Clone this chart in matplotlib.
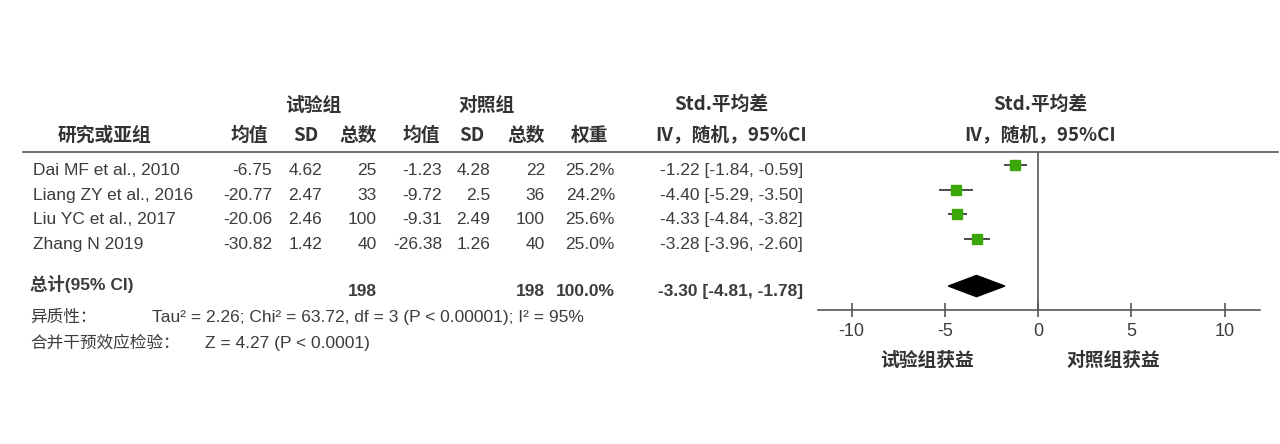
import matplotlib
matplotlib.use("Agg")
import matplotlib.pyplot as plt

# study-level data
studies = ["Dai MF et al., 2010", "Liang ZY et al., 2016",
           "Liu YC et al., 2017", "Zhang N 2019"]
exp_mean = [-6.75, -20.77, -20.06, -30.82]
exp_sd = [4.62, 2.47, 2.46, 1.42]
exp_n = [25, 33, 100, 40]
ctrl_mean = [-1.23, -9.72, -9.31, -26.38]
ctrl_sd = [4.28, 2.5, 2.49, 1.26]
ctrl_n = [22, 36, 100, 40]
weights = [25.2, 24.2, 25.6, 25.0]
smd = [-1.22, -4.40, -4.33, -3.28]
ci_lo = [-1.84, -5.29, -4.84, -3.96]
ci_hi = [-0.59, -3.50, -3.82, -2.60]

# pooled result
total_smd, total_lo, total_hi = -3.30, -4.81, -1.78
total_exp_n, total_ctrl_n, total_w = 198, 198, 100.0
het_text = "Tau² = 2.26; Chi² = 63.72, df = 3 (P < 0.00001); I² = 95%"
z_text = "Z = 4.27 (P < 0.0001)"
xticks = [-10, -5, 0, 5, 10]

TXT = "#3c3c3c"
LINE = "#555555"
GREEN = "#3aa80a"
LAT = ["Liberation Sans", "Noto Sans CJK SC"]
CJK = ["Noto Sans CJK SC", "DejaVu Sans"]

fig = plt.figure(figsize=(12.8, 4.44), dpi=100)

# pixel-coordinate layer for the table part
ax_t = fig.add_axes([0, 0, 1, 1])
ax_t.set_xlim(0, 1280)
ax_t.set_ylim(444, 0)
ax_t.axis("off")

hdr = dict(family=CJK, fontsize=13.5, fontweight="bold", color="#333333", va="center")
ax_t.text(313, 105, "试验组", ha="center", **hdr)
ax_t.text(487, 105, "对照组", ha="center", **hdr)
ax_t.text(721, 104, "Std.平均差", ha="center", **hdr)
ax_t.text(1040, 104, "Std.平均差", ha="center", **hdr)
ax_t.text(104, 135, "研究或亚组", ha="center", **hdr)
for x, lab in [(268, "均值"), (318, "SD"), (377, "总数"), (440, "均值"),
               (484, "SD"), (545, "总数"), (608, "权重")]:
    ax_t.text(x, 135, lab, ha="right", **hdr)
ax_t.text(731, 135, "IV，随机，95%CI", ha="center", **hdr)
ax_t.text(1040, 135, "IV，随机，95%CI", ha="center", **hdr)

ax_t.plot([23, 1278], [152, 152], color=LINE, lw=1.2)

row_y = [170, 195, 219, 244]
cell = dict(family=LAT, fontsize=12.5, color=TXT, va="center")
for i, y in enumerate(row_y):
    ax_t.text(33, y, studies[i], ha="left", **cell)
    ax_t.text(272, y, f"{exp_mean[i]:g}", ha="right", **cell)
    ax_t.text(322, y, f"{exp_sd[i]:g}", ha="right", **cell)
    ax_t.text(377, y, f"{exp_n[i]}", ha="right", **cell)
    ax_t.text(442, y, f"{ctrl_mean[i]:g}", ha="right", **cell)
    ax_t.text(490, y, f"{ctrl_sd[i]:g}", ha="right", **cell)
    ax_t.text(545, y, f"{ctrl_n[i]}", ha="right", **cell)
    ax_t.text(615, y, f"{weights[i]:.1f}%", ha="right", **cell)
    ax_t.text(803, y, f"{smd[i]:.2f} [{ci_lo[i]:.2f}, {ci_hi[i]:.2f}]", ha="right", **cell)

bold = dict(cell, fontweight="bold")
ax_t.text(30, 284, "总计(95% CI)", ha="left", **bold)
ax_t.text(377, 291, f"{total_exp_n}", ha="right", **bold)
ax_t.text(545, 291, f"{total_ctrl_n}", ha="right", **bold)
ax_t.text(615, 291, f"{total_w:.1f}%", ha="right", **bold)
ax_t.text(803, 291, f"{total_smd:.2f} [{total_lo:.2f}, {total_hi:.2f}]", ha="right", **bold)

ax_t.text(30, 317, "异质性：", family=CJK, fontsize=12, color=TXT, va="center")
ax_t.text(152, 317, het_text, ha="left", **cell)
ax_t.text(30, 343, "合并干预效应检验：", family=CJK, fontsize=12, color=TXT, va="center")
ax_t.text(205, 343, z_text, ha="left", **cell)

ax_t.text(927, 360, "试验组获益", ha="center", **hdr)
ax_t.text(1113, 360, "对照组获益", ha="center", **hdr)

# forest plot
ax = fig.add_axes([818 / 1280, (444 - 310) / 444, 442 / 1280, (310 - 152) / 444])
rows = list(range(len(studies)))
total_row = 4.9
ax.hlines(rows, ci_lo, ci_hi, color="#4a4a4a", lw=1.4)
ax.plot(smd, rows, "s", color=GREEN, ms=7.5, mec=GREEN)
h = 0.43
ax.fill([total_lo, total_smd, total_hi, total_smd],
        [total_row, total_row - h, total_row, total_row + h], color="black")
ax.axvline(0, color=LINE, lw=1.2)

ax.set_xlim(-11.8, 11.9)
ax.set_ylim(5.87, -0.53)
ax.set_xticks(xticks)
ax.set_xticklabels([str(t) for t in xticks], family=LAT, fontsize=13, color=TXT)
ax.tick_params(axis="x", direction="inout", length=10, width=1.2, color=LINE, pad=4)
ax.set_yticks([])
for s in ["top", "left", "right"]:
    ax.spines[s].set_visible(False)
ax.spines["bottom"].set_color(LINE)
ax.spines["bottom"].set_linewidth(1.2)
ax.patch.set_alpha(0)

fig.savefig("out.png", dpi=100)
